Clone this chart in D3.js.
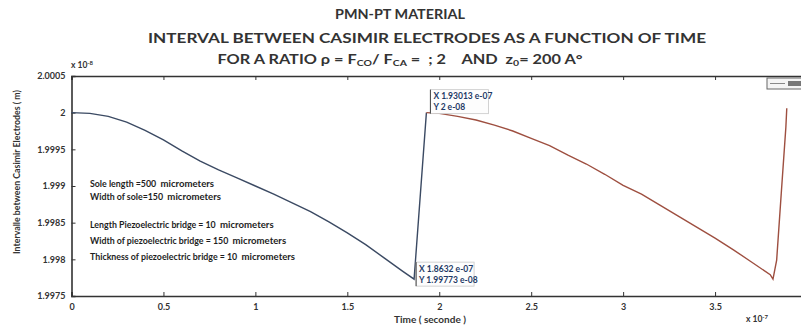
<!DOCTYPE html>
<html>
<head>
<meta charset="utf-8">
<script src="https://cdn.jsdelivr.net/npm/d3@7"></script>
<style>
  body { margin: 0; background: #fff; }
  svg { display: block; font-family: Lato, "Open Sans", sans-serif; }
  text { white-space: pre; }
</style>
</head>
<body>
<div id="chart"></div>
<script>
// data (time in 1e-7 s, interval in 1e-8 m)
const t1 = [0, 0.1, 0.2, 0.3, 0.4, 0.5, 0.6, 0.7, 0.8, 0.9, 1.0, 1.1, 1.2, 1.3, 1.4, 1.5, 1.6, 1.7, 1.8, 1.8632, 1.93013]
const v1 = [2.0, 1.99999, 1.99995, 1.99987, 1.99976, 1.99963, 1.99948, 1.99934, 1.99922, 1.99911, 1.999, 1.99889,
  1.99877, 1.99865, 1.99851, 1.99836, 1.9982, 1.99802, 1.99784, 1.99773, 2.0]
const t2 = [1.93013, 2.0, 2.1, 2.2, 2.3, 2.4, 2.5, 2.6, 2.7, 2.8, 2.9, 3.0, 3.1, 3.2, 3.3, 3.4, 3.5, 3.6, 3.7, 3.8,
  3.815, 3.835, 3.86, 3.885, 3.89]
const v2 = [2.0, 1.99999, 1.99995, 1.9999, 1.99983, 1.99975, 1.99965, 1.99955, 1.99942, 1.9993, 1.99916, 1.99901,
  1.99889, 1.99874, 1.99859, 1.99844, 1.99829, 1.99813, 1.99796, 1.99779, 1.99773, 1.99799, 1.9989, 1.9998, 2.00006]

const xTicks = [0, 0.5, 1, 1.5, 2, 2.5, 3, 3.5]
const xTickLabels = ["0", "0.5", "1", "1.5", "2", "2.5", "3", "3.5"]
const yTicks = [1.9975, 1.998, 1.9985, 1.999, 1.9995, 2.0, 2.0005]
const yTickLabels = ["1.9975", "1.998", "1.9985", "1.999", "1.9995", "2", "2.0005"]

const tips = [
  { t: 1.93013, v: 2.0, lines: ["X 1.93013 e-07", "Y 2 e-08"], dx: 4, dy: -22 },
  { t: 1.8632, v: 1.99773, lines: ["X 1.8632 e-07", "Y 1.99773 e-08"], dx: 2, dy: -16 }
]

const notes = [
  ["Sole length =500", "micrometers"],
  ["Width of sole=150", "micrometers"],
  ["Length Piezoelectric bridge = 10", "micrometers"],
  ["Width of piezoelectric bridge = 150", "micrometers"],
  ["Thickness of piezoelectric bridge = 10", "micrometers"]
]
const noteY = [187, 200, 228, 244, 260]

const width = 801, height = 327
const margin = { left: 71.5, top: 76, bottom: 31 }

const svg = d3.select("#chart").append("svg")
  .attr("width", width)
  .attr("height", height)

svg.append("rect").attr("width", width).attr("height", height).attr("fill", "#fff")

const x = d3.scaleLinear().domain([0, 4]).range([margin.left, 807])
const y = d3.scaleLinear().domain([1.9975, 2.0005]).range([height - margin.bottom, margin.top])

// titles
const titles = svg.append("g").attr("text-anchor", "middle").attr("fill", "#333").attr("font-weight", "bold")
titles.append("text").attr("x", 400).attr("y", 19).attr("font-size", 12.5)
  .attr("textLength", 130).attr("lengthAdjust", "spacingAndGlyphs").text("PMN-PT MATERIAL")
titles.append("text").attr("x", 427).attr("y", 42.5).attr("font-size", 12.5)
  .attr("textLength", 558).attr("lengthAdjust", "spacingAndGlyphs")
  .text("INTERVAL BETWEEN CASIMIR ELECTRODES AS A FUNCTION OF TIME")
const t3 = titles.append("text").attr("x", 400).attr("y", 63.5).attr("font-size", 12.5)
  .attr("textLength", 365).attr("lengthAdjust", "spacingAndGlyphs")
t3.append("tspan").text("FOR A RATIO \u03C1 = F")
t3.append("tspan").attr("font-size", 8).attr("dy", 2).text("CO")
t3.append("tspan").attr("dy", -2).text("/ F")
t3.append("tspan").attr("font-size", 8).attr("dy", 2).text("CA")
t3.append("tspan").attr("dy", -2).text(" =  ; 2    AND  z")
t3.append("tspan").attr("font-size", 8).attr("dy", 2).text("0")
t3.append("tspan").attr("dy", -2).text("= 200 A\u00B0")

// axes
const axisColor = "#333"
const gx = svg.append("g").attr("transform", `translate(0,${y.range()[0]})`)
  .call(d3.axisBottom(x).tickValues(xTicks).tickFormat((d, i) => xTickLabels[i]).tickSize(-4).tickPadding(8))
const gxTop = svg.append("g").attr("transform", `translate(0,${y.range()[1]})`)
  .call(d3.axisTop(x).tickValues(xTicks).tickFormat("").tickSize(-4))
const gy = svg.append("g").attr("transform", `translate(${margin.left},0)`)
  .call(d3.axisLeft(y).tickValues(yTicks).tickFormat((d, i) => yTickLabels[i]).tickSize(-4).tickPadding(6))

;[gx, gxTop, gy].forEach(g => {
  g.select(".domain").attr("stroke", axisColor).attr("stroke-width", 1.6)
  g.selectAll(".tick line").attr("stroke", axisColor).attr("stroke-width", 1)
  g.selectAll("text").attr("font-size", 9).attr("font-weight", "bold").attr("fill", "#333")
    .attr("font-family", "Lato, sans-serif")
})

// multipliers
svg.append("text").attr("x", 82).attr("y", 68).attr("text-anchor", "middle")
  .attr("font-size", 8.5).attr("font-weight", "bold").attr("fill", "#333")
  .call(s => { s.append("tspan").text("x 10"); s.append("tspan").attr("font-size", 6).attr("dy", -3).text("-8") })
svg.append("text").attr("x", 757).attr("y", 322).attr("text-anchor", "middle")
  .attr("font-size", 8.5).attr("font-weight", "bold").attr("fill", "#333")
  .call(s => { s.append("tspan").text("x 10"); s.append("tspan").attr("font-size", 6).attr("dy", -3).text("-7") })

// axis labels
svg.append("text").attr("x", 430).attr("y", 323).attr("text-anchor", "middle")
  .attr("font-size", 10).attr("font-weight", "bold").attr("fill", "#333").text("Time ( seconde )")
svg.append("text").attr("transform", `translate(20,172) rotate(-90)`)
  .attr("text-anchor", "middle").attr("font-size", 8.8).attr("font-weight", "bold").attr("fill", "#333")
  .text("Intervalle between Casimir Electrodes ( m)")

// curves
const line = d3.line().x(d => x(d[0])).y(d => y(d[1]))
svg.append("path").datum(d3.zip(t1, v1)).attr("d", line)
  .attr("fill", "none").attr("stroke", "#3b4a63").attr("stroke-width", 1.4)
svg.append("path").datum(d3.zip(t2, v2)).attr("d", line)
  .attr("fill", "none").attr("stroke", "#9e4f40").attr("stroke-width", 1.4)

// notes
const ng = svg.append("g").attr("fill", "#1e1e1e").attr("font-weight", "bold")
notes.forEach((n, i) => {
  const tx = ng.append("text").attr("x", 90).attr("y", noteY[i]).attr("font-size", 8.8)
  tx.append("tspan").text(n[0] + "  ")
  tx.append("tspan").attr("font-size", 9.6).text(n[1])
})

// data tips
tips.forEach(d => {
  const px = x(d.t), py = y(d.v)
  const g = svg.append("g").attr("transform", `translate(${px + d.dx},${py + d.dy})`)
  g.append("rect").attr("x", 0).attr("y", -1).attr("width", 58).attr("height", 24)
    .attr("fill", "#fdfdfd").attr("stroke", "#c8c8c8").attr("stroke-width", 0.8)
  g.append("line").attr("x1", 0).attr("x2", 0).attr("y1", -1).attr("y2", 23).attr("stroke", "#444").attr("stroke-width", 1)
  d.lines.forEach((l, i) => {
    g.append("text").attr("x", 3).attr("y", 8.5 + i * 11).attr("font-size", 8.5).attr("font-weight", "bold")
      .attr("fill", "#1d3a66").text(l)
  })
})

// legend (cut off at the right edge)
const lg = svg.append("g").attr("transform", "translate(767,78)")
lg.append("rect").attr("width", 40).attr("height", 11).attr("fill", "#f4f4f4").attr("stroke", "#666").attr("stroke-width", 1)
lg.append("line").attr("x1", 3).attr("x2", 18).attr("y1", 5.5).attr("y2", 5.5).attr("stroke", "#888").attr("stroke-width", 1)
lg.append("rect").attr("x", 21).attr("y", 3).attr("width", 14).attr("height", 5).attr("fill", "#777")
</script>
</body>
</html>
